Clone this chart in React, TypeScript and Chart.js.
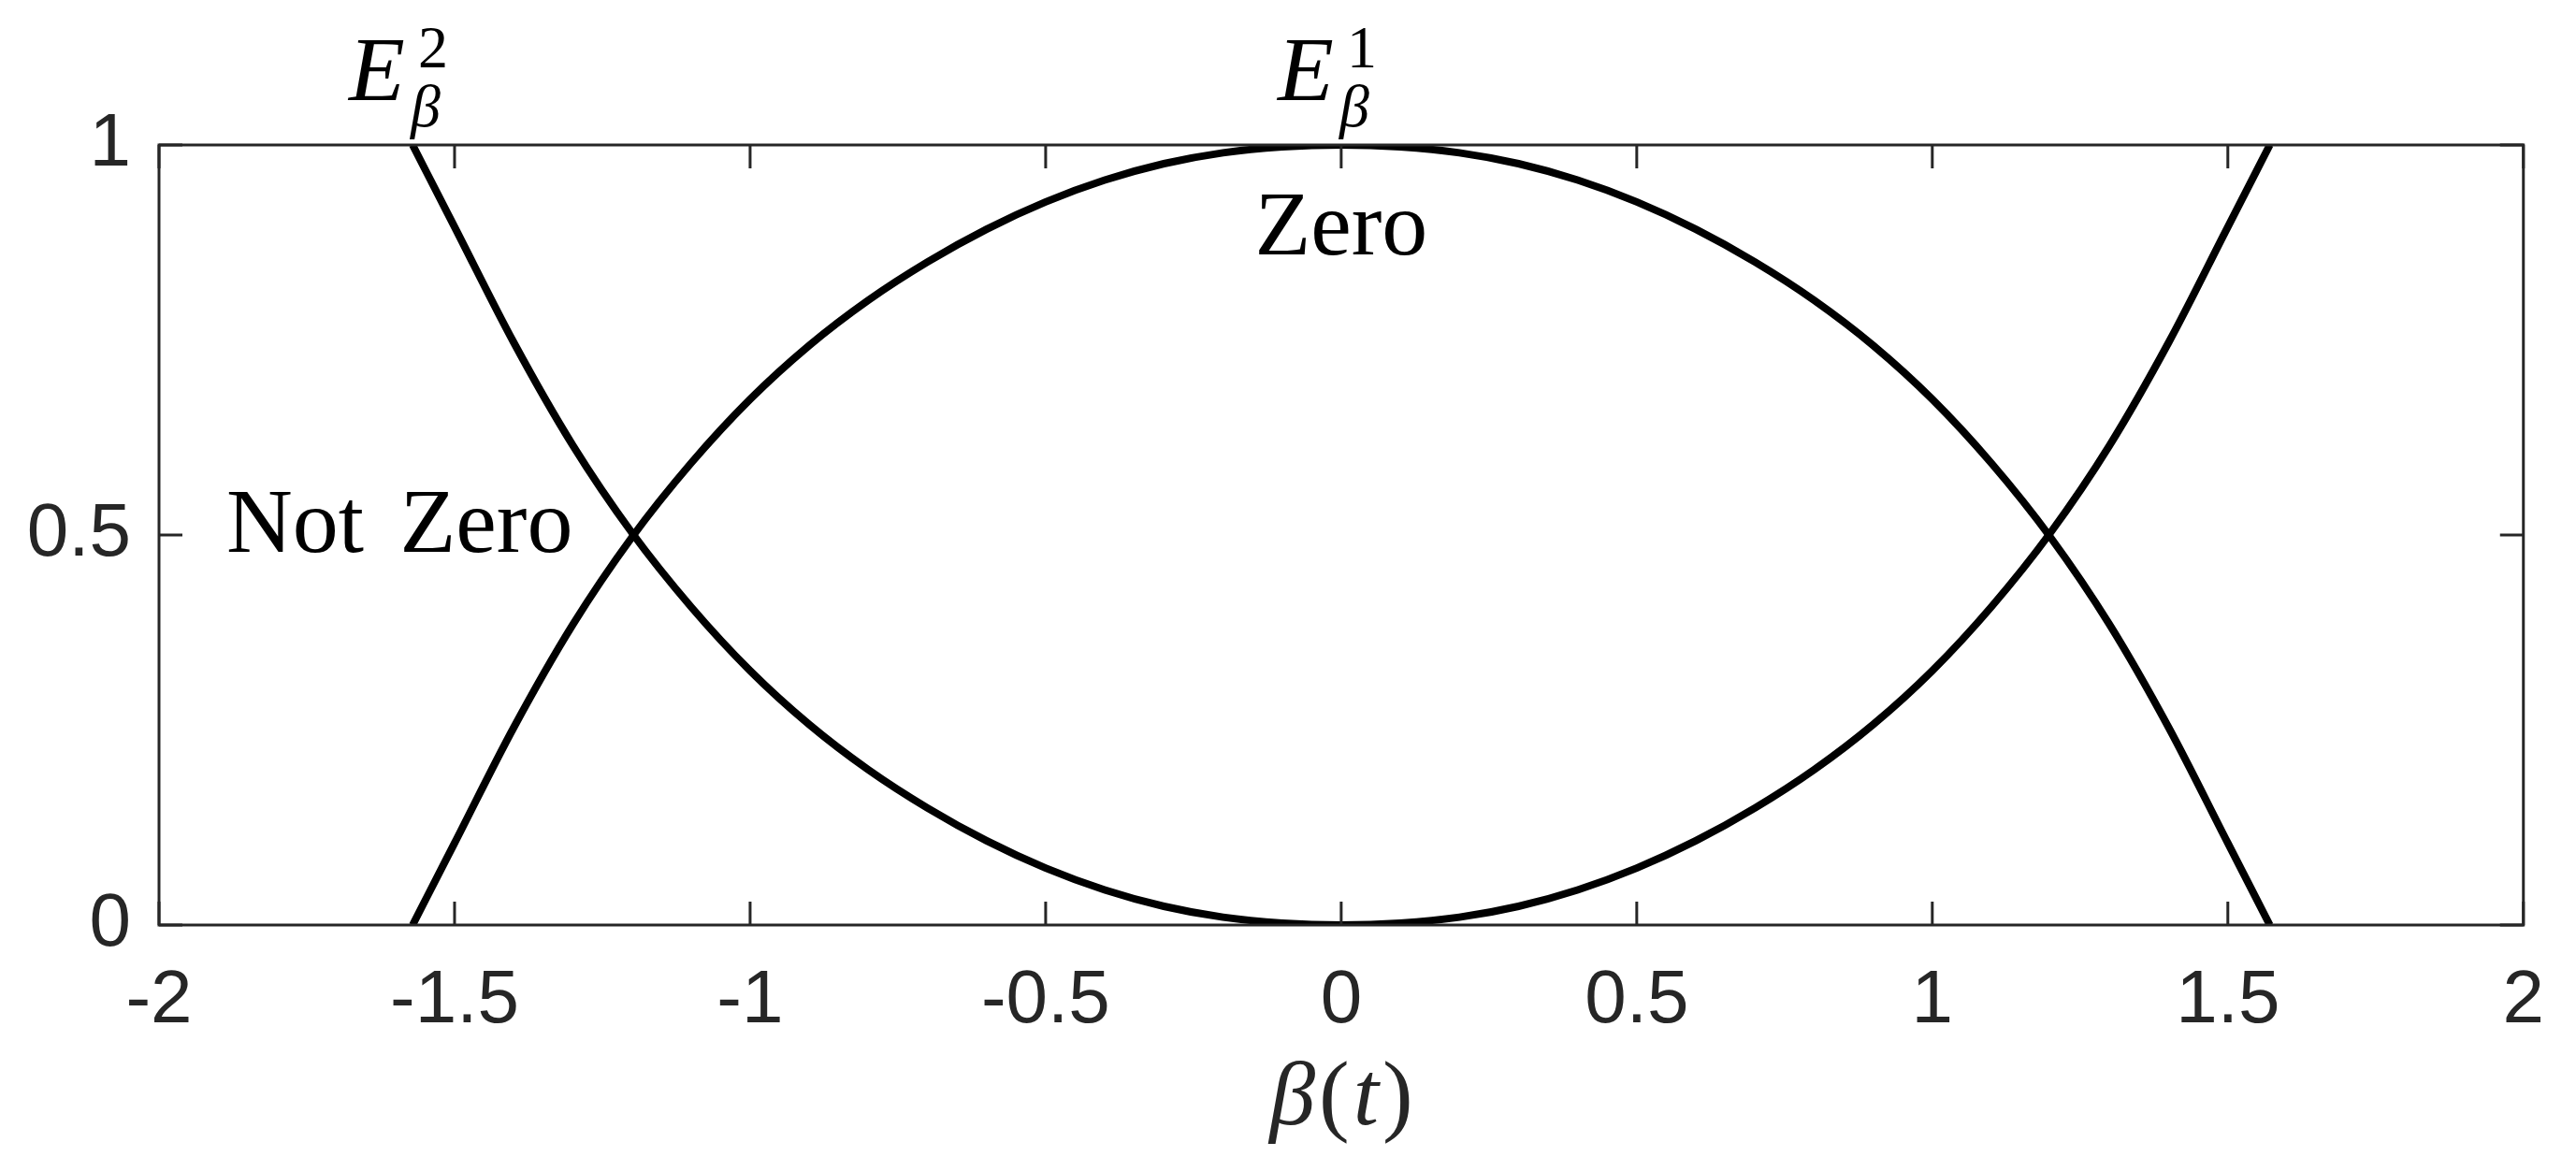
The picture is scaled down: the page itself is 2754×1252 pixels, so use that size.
import React, { useEffect, useRef } from 'react';
import { Chart, registerables } from 'chart.js';

Chart.register(...registerables);

// ---- data ----
const betaValues = [
  -1.571, -1.5, -1.4, -1.3, -1.2, -1.1, -1.0, -0.9, -0.8, -0.7, -0.6, -0.5, -0.4, -0.3, -0.2, -0.1,
  0,
  0.1, 0.2, 0.3, 0.4, 0.5, 0.6, 0.7, 0.8, 0.9, 1.0, 1.1, 1.2, 1.3, 1.4, 1.5, 1.571,
];
const energy1 = [
  0, 0.105, 0.253, 0.385, 0.497, 0.592, 0.674, 0.743, 0.801, 0.85, 0.892, 0.927, 0.955, 0.976, 0.99, 0.9975,
  1,
  0.9975, 0.99, 0.976, 0.955, 0.927, 0.892, 0.85, 0.801, 0.743, 0.674, 0.592, 0.497, 0.385, 0.253, 0.105, 0,
];
const energy2 = [
  1, 0.895, 0.747, 0.615, 0.503, 0.408, 0.326, 0.257, 0.199, 0.15, 0.108, 0.073, 0.045, 0.024, 0.01, 0.0025,
  0,
  0.0025, 0.01, 0.024, 0.045, 0.073, 0.108, 0.15, 0.199, 0.257, 0.326, 0.408, 0.503, 0.615, 0.747, 0.895, 1,
];
const xTickValues = [-2, -1.5, -1, -0.5, 0, 0.5, 1, 1.5, 2];
const yTickValues = [0, 0.5, 1];
// x-axis label β(t): [text, italic?]
const xAxisLabelParts: [string, boolean][] = [
  ['β', true],
  ['(', false],
  ['t', true],
  [')', false],
];

// annotations (data coordinates)
const curveLabels = [
  { base: 'E', sub: 'β', sup: '2', x: -1.571 },
  { base: 'E', sub: 'β', sup: '1', x: 0 },
];
const textLabels = [
  { text: 'Zero', x: 0, y: 0.86 },
  { text: 'Not Zero', x: -1.593, y: 0.478 },
];

const SERIF = '"Liberation Serif", "Times New Roman", serif';
const SANS = '"Liberation Sans", Arial, Helvetica, sans-serif';
const AXIS_COLOR = '#262626';

const boxPlugin = {
  id: 'matlabBox',
  afterDatasetsDraw(chart: any) {
    const { ctx, chartArea, scales } = chart;
    const { left, right, top, bottom } = chartArea;
    const xs = scales.x;
    const ys = scales.y;
    ctx.save();
    ctx.strokeStyle = AXIS_COLOR;
    ctx.lineWidth = 3;
    ctx.strokeRect(left, top, right - left, bottom - top);
    const L = 25;
    ctx.beginPath();
    for (const v of xTickValues) {
      const px = xs.getPixelForValue(v);
      ctx.moveTo(px, bottom);
      ctx.lineTo(px, bottom - L);
      ctx.moveTo(px, top);
      ctx.lineTo(px, top + L);
    }
    for (const v of yTickValues) {
      const py = ys.getPixelForValue(v);
      ctx.moveTo(left, py);
      ctx.lineTo(left + L, py);
      ctx.moveTo(right, py);
      ctx.lineTo(right - L, py);
    }
    ctx.stroke();

    // text annotations
    ctx.fillStyle = '#000';
    ctx.textBaseline = 'alphabetic';
    ctx.textAlign = 'center';
    ctx.font = `98px ${SERIF}`;
    try { (ctx as any).wordSpacing = '14px'; } catch (e) {}
    for (const t of textLabels) {
      ctx.fillText(t.text, xs.getPixelForValue(t.x), ys.getPixelForValue(t.y));
    }
    try { (ctx as any).wordSpacing = '0px'; } catch (e) {}

    // E labels above the axes
    ctx.textAlign = 'left';
    const baseY = top - 48;
    for (const c of curveLabels) {
      const lx = xs.getPixelForValue(c.x) - 68;
      ctx.font = `italic 98px ${SERIF}`;
      ctx.fillText(c.base, lx, baseY);
      ctx.font = `64px ${SERIF}`;
      ctx.fillText(c.sup, lx + 74, baseY - 35);
      ctx.font = `italic 64px ${SERIF}`;
      ctx.fillText(c.sub, lx + 66, baseY + 28);
    }

    // x-axis label with mixed italic / upright glyphs
    ctx.fillStyle = AXIS_COLOR;
    const fontFor = (it: boolean) => `${it ? 'italic ' : ''}98px ${SERIF}`;
    let total = 0;
    const widths: number[] = [];
    for (const [s, it] of xAxisLabelParts) {
      ctx.font = fontFor(it);
      const w = ctx.measureText(s).width;
      widths.push(w);
      total += w + 4;
    }
    total -= 4;
    let cx = (left + right) / 2 - total / 2;
    const titleBase = bottom + 213;
    xAxisLabelParts.forEach(([s, it], i) => {
      ctx.font = fontFor(it);
      ctx.fillText(s, cx, titleBase);
      cx += widths[i] + 4;
    });
    ctx.restore();
  },
};

export default function App() {
  const canvasRef = useRef<HTMLCanvasElement | null>(null);

  useEffect(() => {
    if (!canvasRef.current) return;
    const toPoints = (ys: number[]) => betaValues.map((b, i) => ({ x: b, y: ys[i] }));
    const chart = new Chart(canvasRef.current, {
      type: 'line',
      data: {
        datasets: [
          {
            label: 'E1',
            data: toPoints(energy1),
            borderColor: '#000',
            borderWidth: 8,
            pointRadius: 0,
            fill: false,
            cubicInterpolationMode: 'monotone',
          },
          {
            label: 'E2',
            data: toPoints(energy2),
            borderColor: '#000',
            borderWidth: 8,
            pointRadius: 0,
            fill: false,
            cubicInterpolationMode: 'monotone',
          },
        ],
      },
      options: {
        animation: false,
        responsive: true,
        maintainAspectRatio: false,
        devicePixelRatio: 1,
        layout: { padding: { top: 155, right: 56, left: 0, bottom: 0 } },
        plugins: {
          legend: { display: false },
          tooltip: { enabled: false },
        },
        scales: {
          x: {
            type: 'linear',
            min: -2,
            max: 2,
            grid: { display: false, drawTicks: false },
            border: { display: false },
            afterBuildTicks: (s: any) => {
              s.ticks = xTickValues.map((v) => ({ value: v }));
            },
            afterFit: (s: any) => {
              s.height = 263;
            },
            ticks: {
              color: AXIS_COLOR,
              font: { family: SANS, size: 80, lineHeight: 1.2 },
              padding: 34,
              maxRotation: 0,
              autoSkip: false,
              callback: (v: any) => String(v),
            },
          },
          y: {
            type: 'linear',
            min: 0,
            max: 1,
            grid: { display: false, drawTicks: false },
            border: { display: false },
            afterBuildTicks: (s: any) => {
              s.ticks = yTickValues.map((v) => ({ value: v }));
            },
            afterFit: (s: any) => {
              s.width = 170;
            },
            ticks: {
              color: AXIS_COLOR,
              font: { family: SANS, size: 80, lineHeight: 1.2 },
              padding: 30,
              autoSkip: false,
              callback: (v: any) => String(v),
            },
          },
        },
      },
      plugins: [boxPlugin],
    });
    return () => chart.destroy();
  }, []);

  return (
    <div
      style={{
        position: 'fixed',
        left: 0,
        top: 0,
        width: 2754,
        height: 1252,
        background: '#fff',
      }}
    >
      <canvas ref={canvasRef} />
    </div>
  );
}
